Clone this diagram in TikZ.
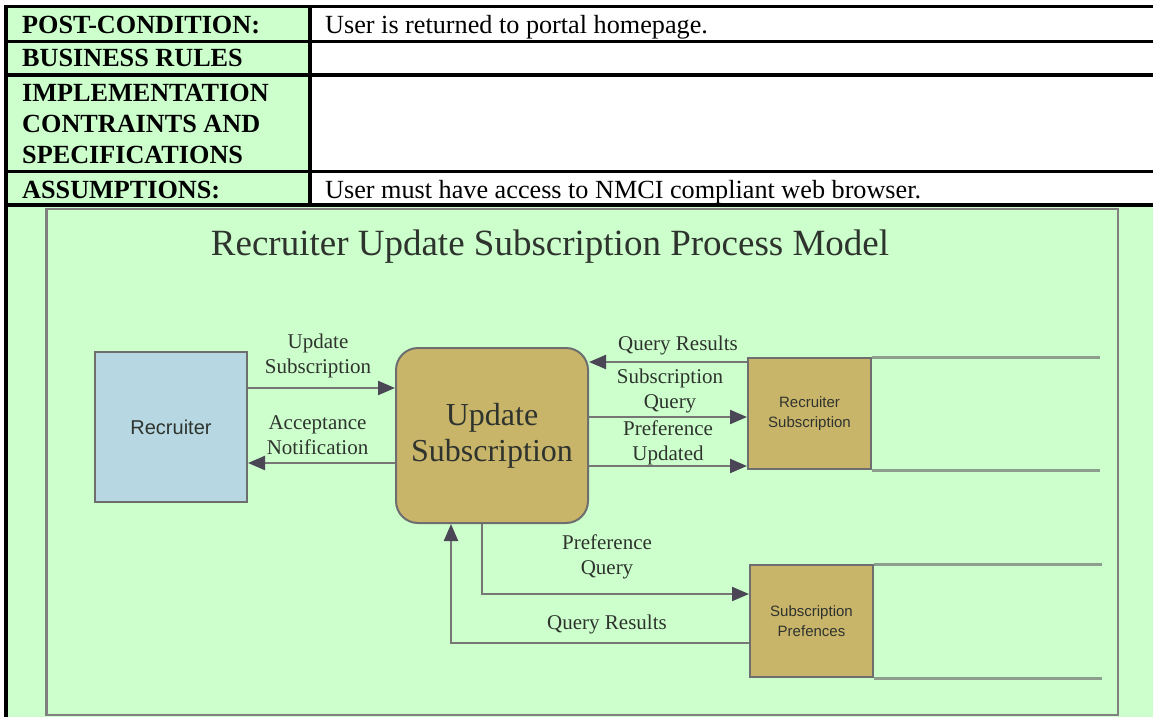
\documentclass[tikz,border=0pt]{standalone}
\usepackage{fontspec}
\setmainfont{Liberation Serif}[BoldFont={Liberation Serif Bold}]
\newfontfamily\diasans{Liberation Sans}
\usetikzlibrary{positioning,arrows.meta,calc}
\definecolor{mint}{HTML}{CCFFCC}
\definecolor{skyfill}{HTML}{B7D8E2}
\definecolor{tanfill}{HTML}{C9B56A}
\definecolor{edge}{HTML}{6E6E6E}
\definecolor{wire}{HTML}{767676}
\definecolor{tip}{HTML}{4A4656}
\definecolor{storeline}{HTML}{8E9E8E}
\definecolor{framegray}{HTML}{808080}
\definecolor{ink}{HTML}{2E332E}

\begin{document}
\begin{tikzpicture}[
  x=1pt, y=-1pt,
  rule/.style={line width=3.3pt, black},
  hdr/.style={anchor=base west, inner sep=0pt, font=\bfseries\fontsize{26.2}{31}\selectfont},
  cell/.style={anchor=base west, inner sep=0pt, font=\fontsize{26.2}{31}\selectfont},
  proc/.style={draw=edge, line width=2pt, fill=tanfill, rounded corners=22pt,
               minimum width=192pt, minimum height=175pt, inner sep=0pt, align=center,
               font=\fontsize{32}{36}\selectfont, text=ink},
  ext/.style={draw=edge, line width=2pt, fill=skyfill, minimum width=152pt,
              minimum height=150pt, font=\diasans\fontsize{20}{24}\selectfont, text=ink},
  store/.style={draw=edge, line width=2pt, fill=tanfill, minimum width=123pt,
                minimum height=111pt, align=center, font=\diasans\fontsize{15}{20}\selectfont, text=ink},
  storeedge/.style={draw=storeline, line width=3pt},
  flow/.style={draw=wire, line width=2.2pt, -{Triangle[length=17pt, width=14pt, color=tip]}},
  lbl/.style={align=center, inner sep=0pt, font=\fontsize{21}{25}\selectfont, text=ink}
]
  \useasboundingbox (0,0) rectangle (1153,717);

  % table cells
  \fill[white] (6,6) rectangle (1153,205);
  \fill[mint] (6,6) rectangle (310,205);
  \fill[mint] (6,205) rectangle (1153,717);

  % table rules
  \draw[rule] (6,4.8) -- (6,717);
  \draw[rule] (4.4,6.5) -- (1153,6.5);
  \draw[rule] (310,6.5) -- (310,205);
  \foreach \ry in {41.7, 75, 171.7, 205}
    \draw[rule] (4.4,\ry) -- (1153,\ry);

  % table text
  \node[hdr] (postkey) at (22,33.3) {POST-CONDITION:};
  \node[cell] (postval) at (325,33.3) {User is returned to portal homepage.};
  \node[hdr] (ruleskey) at (22,66.7) {BUSINESS RULES};
  \node[hdr, anchor=north west, align=left] (implkey) at (22,84.4)
    {IMPLEMENTATION\\CONTRAINTS AND\\SPECIFICATIONS};
  \node[hdr] (assumkey) at (22,198.3) {ASSUMPTIONS:};
  \node[cell] (assumval) at (325,198.3) {User must have access to NMCI compliant web browser.};

  % process model frame
  \draw[draw=framegray, line width=2.5pt] (46.5,209) rectangle (1118,715);
  \node[font=\fontsize{37}{44}\selectfont, text=ink, anchor=base] (title) at (550,255)
    {Recruiter Update Subscription Process Model};

  \node[ext] (recruiter) at (171,427) {Recruiter};
  \node[proc] (update) at (492,435.5) {Update\\Subscription};
  \node[store] (recsub) at (809.5,413.5) {Recruiter\\Subscription};
  \node[store, minimum height=112pt] (subpref) at (811.5,621) {Subscription\\Prefences};

  % data store edges
  \draw[storeedge] (recsub.north east) -- ++(228,0);
  \draw[storeedge] (recsub.south east) -- ++(228,0);
  \draw[storeedge] (subpref.north east) -- ++(228,0);
  \draw[storeedge] (subpref.south east) -- ++(228,0);

  % flows
  \draw[flow] (recruiter.east |- 0,388) -- (update.west |- 0,388);
  \draw[flow] (update.west |- 0,463) -- (recruiter.east |- 0,463);
  \draw[flow] (recsub.west |- 0,362) -- (update.east |- 0,362);
  \draw[flow] (update.east |- 0,417) -- (recsub.west |- 0,417);
  \draw[flow] (update.east |- 0,466) -- (recsub.west |- 0,466);
  \draw[flow] (update.south -| 482,0) |- (subpref.west |- 0,594);
  \draw[flow] (subpref.west |- 0,643) -| (update.south -| 451,0);

  \node[lbl] (lupdate) at (318,356) {Update\\Subscription};
  \node[lbl] (laccept) at (317.5,435) {Acceptance\\Notification};
  \node[lbl] (lresults) at (678,345) {Query Results};
  \node[lbl] (lsubq) at (670,391) {Subscription\\Query};
  \node[lbl] (lprefup) at (668,443) {Preference\\Updated};
  \node[lbl] (lprefq) at (607,557) {Preference\\Query};
  \node[lbl] (lresults2) at (607,624) {Query Results};
\end{tikzpicture}
\end{document}
